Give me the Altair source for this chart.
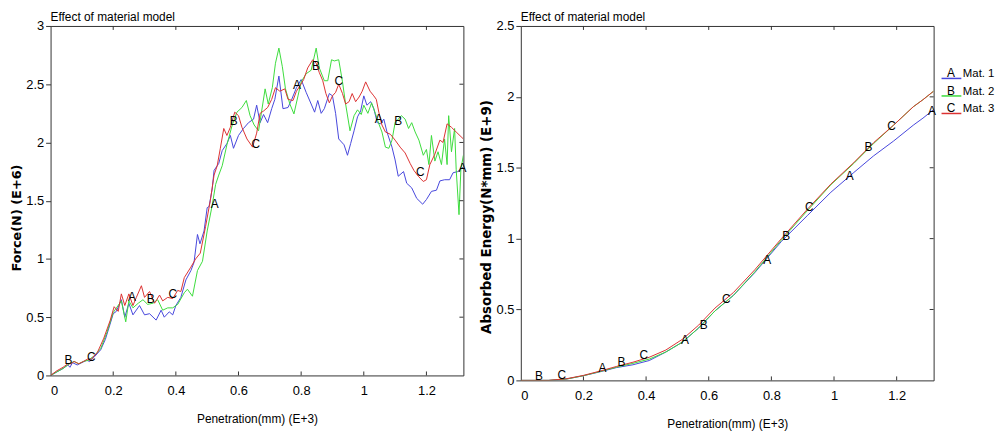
import altair as alt
import pandas as pd

# ---------------- data ----------------
names = ["Mat. 1", "Mat. 2", "Mat. 3"]
letters = ["A", "B", "C"]
colors = ["#4646dc", "#3cdc3c", "#dc3232"]

force_x_m1 = [0, 0.02, 0.04, 0.055, 0.062, 0.07, 0.085, 0.10, 0.115, 0.125, 0.14, 0.16, 0.175, 0.19, 0.2, 0.21, 0.226, 0.237, 0.25, 0.263, 0.284, 0.30, 0.316, 0.337, 0.353, 0.363, 0.379, 0.39, 0.40, 0.416, 0.432, 0.448, 0.458, 0.469, 0.477, 0.49, 0.50, 0.506, 0.516, 0.522, 0.537, 0.548, 0.563, 0.574, 0.584, 0.60, 0.616, 0.632, 0.648, 0.658, 0.669, 0.68, 0.693, 0.706, 0.716, 0.729, 0.742, 0.758, 0.77, 0.785, 0.80, 0.816, 0.832, 0.843, 0.853, 0.864, 0.874, 0.89, 0.90, 0.91, 0.92, 0.937, 0.948, 0.958, 0.969, 0.98, 0.99, 1.0, 1.01, 1.022, 1.032, 1.043, 1.053, 1.064, 1.074, 1.09, 1.10, 1.11, 1.127, 1.137, 1.153, 1.169, 1.188, 1.2, 1.216, 1.232, 1.243, 1.258, 1.274, 1.285, 1.30, 1.318]
force_y_m1 = [0, 0.03, 0.06, 0.09, 0.07, 0.11, 0.09, 0.11, 0.13, 0.12, 0.16, 0.22, 0.31, 0.44, 0.53, 0.55, 0.65, 0.50, 0.62, 0.52, 0.60, 0.52, 0.53, 0.475, 0.56, 0.50, 0.546, 0.52, 0.60, 0.67, 0.82, 0.90, 0.97, 1.21, 1.13, 1.24, 1.44, 1.45, 1.60, 1.76, 1.82, 1.93, 1.99, 2.06, 1.95, 2.06, 2.12, 2.17, 2.20, 2.32, 2.17, 2.24, 2.17, 2.29, 2.37, 2.57, 2.29, 2.30, 2.37, 2.47, 2.54, 2.43, 2.33, 2.26, 2.36, 2.25, 2.29, 2.42, 2.40, 2.25, 2.03, 1.98, 1.89, 1.99, 2.10, 2.22, 2.27, 2.40, 2.32, 2.35, 2.29, 2.17, 2.16, 2.20, 2.09, 1.96, 1.85, 1.71, 1.75, 1.65, 1.61, 1.52, 1.47, 1.51, 1.58, 1.59, 1.67, 1.68, 1.68, 1.74, 1.75, 1.79]

force_x_m2 = [0, 0.02, 0.04, 0.06, 0.075, 0.09, 0.105, 0.12, 0.14, 0.16, 0.18, 0.2, 0.226, 0.24, 0.25, 0.263, 0.28, 0.295, 0.31, 0.327, 0.342, 0.358, 0.374, 0.39, 0.406, 0.427, 0.437, 0.453, 0.469, 0.485, 0.50, 0.516, 0.527, 0.537, 0.548, 0.563, 0.58, 0.595, 0.611, 0.625, 0.637, 0.650, 0.664, 0.674, 0.685, 0.695, 0.708, 0.718, 0.729, 0.740, 0.750, 0.764, 0.777, 0.790, 0.80, 0.816, 0.832, 0.848, 0.858, 0.874, 0.885, 0.897, 0.906, 0.92, 0.932, 0.942, 0.956, 0.969, 0.98, 0.992, 1.0, 1.013, 1.025, 1.037, 1.048, 1.058, 1.069, 1.08, 1.09, 1.10, 1.12, 1.132, 1.143, 1.153, 1.164, 1.176, 1.19, 1.2, 1.208, 1.216, 1.227, 1.237, 1.248, 1.258, 1.266, 1.271, 1.28, 1.29, 1.295, 1.304, 1.31, 1.318]
force_y_m2 = [0, 0.03, 0.06, 0.10, 0.12, 0.10, 0.12, 0.13, 0.17, 0.23, 0.37, 0.54, 0.64, 0.46, 0.64, 0.58, 0.62, 0.65, 0.61, 0.62, 0.65, 0.56, 0.58, 0.58, 0.61, 0.71, 0.74, 0.68, 0.90, 0.98, 1.24, 1.46, 1.64, 1.72, 1.80, 1.98, 2.15, 2.26, 2.30, 2.36, 2.23, 2.15, 2.10, 2.27, 2.46, 2.33, 2.47, 2.68, 2.81, 2.65, 2.46, 2.33, 2.245, 2.40, 2.52, 2.59, 2.62, 2.81, 2.64, 2.53, 2.53, 2.71, 2.70, 2.71, 2.52, 2.33, 2.10, 2.23, 2.28, 2.24, 2.32, 2.25, 2.34, 2.25, 2.16, 2.09, 1.96, 1.95, 2.02, 2.17, 2.23, 2.20, 2.12, 2.17, 2.09, 2.02, 1.89, 1.94, 1.81, 2.06, 1.84, 1.92, 1.81, 2.03, 1.81, 2.23, 1.92, 2.12, 1.77, 1.38, 1.77, 1.89]

force_x_m3 = [0, 0.02, 0.04, 0.055, 0.065, 0.075, 0.09, 0.105, 0.118, 0.13, 0.15, 0.17, 0.19, 0.203, 0.216, 0.226, 0.237, 0.25, 0.263, 0.274, 0.29, 0.30, 0.316, 0.332, 0.348, 0.358, 0.374, 0.39, 0.406, 0.416, 0.427, 0.448, 0.463, 0.478, 0.495, 0.51, 0.522, 0.532, 0.542, 0.553, 0.563, 0.574, 0.588, 0.60, 0.611, 0.627, 0.645, 0.658, 0.669, 0.68, 0.693, 0.706, 0.718, 0.732, 0.748, 0.758, 0.774, 0.785, 0.795, 0.808, 0.821, 0.837, 0.848, 0.858, 0.869, 0.879, 0.89, 0.90, 0.91, 0.92, 0.932, 0.942, 0.953, 0.963, 0.974, 0.985, 0.995, 1.006, 1.02, 1.032, 1.04, 1.048, 1.058, 1.069, 1.085, 1.10, 1.116, 1.132, 1.148, 1.16, 1.174, 1.19, 1.2, 1.211, 1.227, 1.243, 1.253, 1.266, 1.28, 1.295, 1.318]
force_y_m3 = [0, 0.04, 0.07, 0.10, 0.10, 0.12, 0.10, 0.12, 0.14, 0.14, 0.20, 0.32, 0.47, 0.59, 0.55, 0.70, 0.60, 0.70, 0.60, 0.67, 0.77, 0.67, 0.72, 0.62, 0.69, 0.64, 0.67, 0.66, 0.73, 0.72, 0.84, 0.93, 1.0, 1.05, 1.28, 1.50, 1.72, 1.80, 1.95, 2.12, 2.06, 2.13, 2.26, 2.23, 2.13, 2.03, 1.96, 2.08, 2.25, 2.27, 2.30, 2.37, 2.47, 2.44, 2.46, 2.37, 2.36, 2.44, 2.48, 2.54, 2.64, 2.71, 2.68, 2.60, 2.53, 2.42, 2.34, 2.40, 2.43, 2.50, 2.42, 2.33, 2.35, 2.42, 2.35, 2.39, 2.44, 2.52, 2.44, 2.40, 2.37, 2.26, 2.15, 2.09, 2.07, 2.02, 1.96, 1.91, 1.82, 1.76, 1.71, 1.665, 1.68, 1.81, 1.90, 2.02, 2.00, 2.16, 2.13, 2.09, 2.03]

energy_x = [0, 0.089, 0.147, 0.2, 0.252, 0.305, 0.358, 0.41, 0.463, 0.516, 0.568, 0.62, 0.679, 0.747, 0.832, 0.916, 0.99, 1.063, 1.126, 1.19, 1.253, 1.284, 1.318]
energy_y_m1 = [0, 0, 0.01, 0.033, 0.06, 0.09, 0.11, 0.14, 0.20, 0.27, 0.37, 0.49, 0.60, 0.76, 0.98, 1.165, 1.327, 1.466, 1.583, 1.688, 1.80, 1.85, 1.91]
energy_y_m2 = [0, 0, 0.01, 0.033, 0.062, 0.093, 0.12, 0.15, 0.20, 0.27, 0.37, 0.49, 0.60, 0.765, 0.99, 1.20, 1.38, 1.53, 1.67, 1.80, 1.93, 1.98, 2.04]
energy_y_m3 = [0, 0, 0.012, 0.035, 0.065, 0.098, 0.128, 0.163, 0.214, 0.29, 0.39, 0.51, 0.62, 0.78, 1.0, 1.21, 1.385, 1.536, 1.676, 1.80, 1.93, 1.98, 2.04]

force_lbl_t = ["B", "C", "A", "B", "C", "A", "B", "C", "A", "B", "C", "A", "B", "C", "A"]
force_lbl_x = [0.057, 0.13, 0.26, 0.32, 0.39, 0.524, 0.585, 0.655, 0.787, 0.847, 0.92, 1.048, 1.11, 1.18, 1.315]
force_lbl_y = [0.136, 0.16, 0.67, 0.66, 0.70, 1.47, 2.18, 1.99, 2.49, 2.66, 2.53, 2.20, 2.18, 1.75, 1.78]

energy_lbl_t = ["B", "C", "A", "B", "C", "A", "B", "C", "A", "B", "C", "A", "B", "C", "A"]
energy_lbl_x = [0.058, 0.131, 0.261, 0.321, 0.393, 0.524, 0.584, 0.656, 0.787, 0.847, 0.921, 1.05, 1.11, 1.184, 1.313]
energy_lbl_y = [0.03, 0.04, 0.09, 0.128, 0.18, 0.284, 0.39, 0.575, 0.85, 1.02, 1.22, 1.443, 1.646, 1.797, 1.90]

x_ticks = [0, 0.2, 0.4, 0.6, 0.8, 1.0, 1.2]
force_ticks = [0, 0.5, 1, 1.5, 2, 2.5, 3]
energy_ticks = [0, 0.5, 1, 1.5, 2, 2.5]

title_text = "Effect of material model"
x_title = "Penetration(mm) (E+3)"
force_title = "Force(N) (E+6)"
energy_title = "Absorbed Energy(N*mm) (E+9)"

# ---------------- build ----------------
FONT = "Liberation Sans"
TFONT = "DejaVu Sans"
FRAME = "#333333"
W = 417
XMAX = 1.318


def series_df(xs_list, ys_list):
    rows = []
    for name, xs, ys in zip(names, xs_list, ys_list):
        for i, (a, b) in enumerate(zip(xs, ys)):
            rows.append({"mat": name, "x": a, "y": b, "i": i})
    return pd.DataFrame(rows)


force_df = series_df([force_x_m1, force_x_m2, force_x_m3],
                     [force_y_m1, force_y_m2, force_y_m3])
energy_df = series_df([energy_x, energy_x, energy_x],
                      [energy_y_m1, energy_y_m2, energy_y_m3])

color_scale = alt.Scale(domain=names, range=colors)


def panel(df, lt, lx, ly, ymax, yticks, ytitle, H, tX, tY, tSize, legend=False):
    xs = alt.Scale(domain=[0, XMAX], nice=False, zero=False)
    ys = alt.Scale(domain=[0, ymax], nice=False, zero=False)
    X = alt.X("x:Q", scale=xs, axis=alt.Axis(
        values=x_ticks, format="~g", ticks=False, domain=False, grid=False,
        labelPadding=9, labelFontSize=13, labelColor="black", labelFont=FONT,
        title=x_title, titleFontSize=12, titleFontWeight="normal", titleFont=FONT,
        titleColor="black", titlePadding=17))
    Y = alt.Y("y:Q", scale=ys, axis=alt.Axis(
        values=yticks, format="~g", tickSize=5, tickColor=FRAME, domain=False,
        grid=False, labelPadding=2, labelFontSize=13, labelColor="black",
        labelFont=FONT, title=ytitle, titleFont=TFONT, titleFontSize=tSize,
        titleFontWeight="bold", titleColor="black", titleX=tX, titleY=tY,
        titleAngle=270, titleAlign="center", titleBaseline="middle"))

    lines = alt.Chart(df).mark_line(strokeWidth=1, clip=True).encode(
        x=X, y=Y, color=alt.Color("mat:N", scale=color_scale, legend=None),
        order="i:Q")
    lab_df = pd.DataFrame({"x": lx, "y": ly, "t": lt})
    labels = alt.Chart(lab_df).mark_text(fontSize=12, font=FONT, color="black").encode(
        x=X, y=Y, text="t:N")
    xt = pd.DataFrame({"x": x_ticks[1:]})
    yt = pd.DataFrame({"y": yticks[1:-1]})
    bt = alt.Chart(xt).mark_rule(color=FRAME).encode(x=X, y=alt.value(H), y2=alt.value(H - 4))
    tt = alt.Chart(xt).mark_rule(color=FRAME).encode(x=X, y=alt.value(0), y2=alt.value(4))
    rt = alt.Chart(yt).mark_rule(color=FRAME).encode(y=Y, x=alt.value(W), x2=alt.value(W - 4))
    ttl = alt.Chart(pd.DataFrame({"t": [title_text]})).mark_text(
        align="left", baseline="middle", fontSize=12, font=FONT, color="black").encode(
        text="t:N", x=alt.value(0), y=alt.value(-9))
    layers = [lines, labels, bt, tt, rt, ttl]
    if legend:
        one = pd.DataFrame({"a": [0]})
        for k in range(3):
            y0 = 53 + 17.7 * k
            layers.append(alt.Chart(one).mark_rule(color=colors[k], strokeWidth=1.5).encode(
                x=alt.value(W + 8), x2=alt.value(W + 28), y=alt.value(y0)))
            layers.append(alt.Chart(one).mark_text(
                align="center", baseline="alphabetic", fontSize=12, font=FONT, color="black").encode(
                x=alt.value(W + 17.5), y=alt.value(y0 - 1), text=alt.value(letters[k])))
            layers.append(alt.Chart(one).mark_text(
                align="left", baseline="alphabetic", fontSize=11.5, font=FONT, color="black").encode(
                x=alt.value(W + 29.5), y=alt.value(y0 - 1), text=alt.value(names[k])))
    return alt.layer(*layers).properties(width=W, height=H)


left = panel(force_df, force_lbl_t, force_lbl_x, force_lbl_y, 3, force_ticks,
             force_title, 353, -34, 193.5, 13)
right = panel(energy_df, energy_lbl_t, energy_lbl_x, energy_lbl_y, 2.5, energy_ticks,
              energy_title, 358, -35, 192.5, 13.5, legend=True)

chart = alt.hconcat(left, right, spacing=11).configure(
    padding={"left": 2, "top": 0, "right": 0, "bottom": 0},
).configure_view(stroke=FRAME, strokeWidth=1)

chart.save("out.html", embed_options={"renderer": "svg", "actions": False})
